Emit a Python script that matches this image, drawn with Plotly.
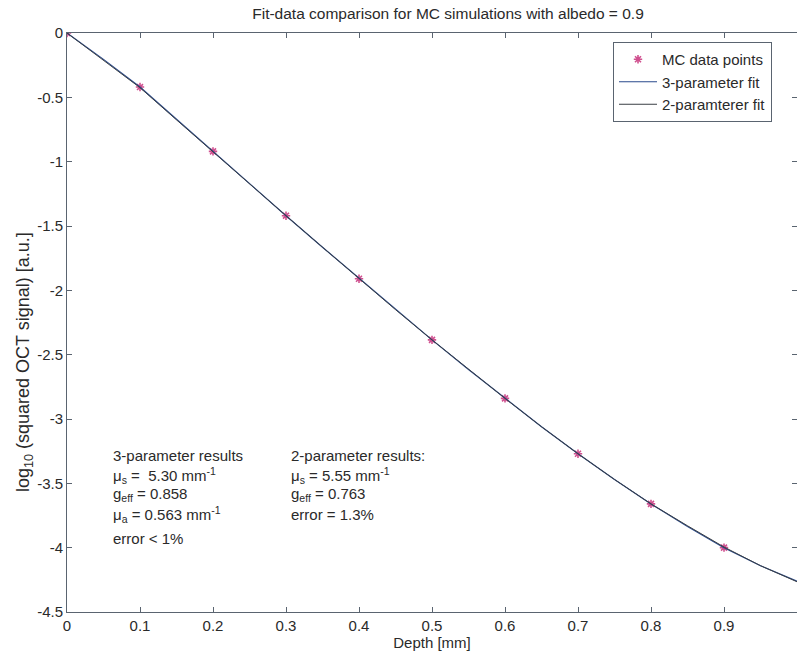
import plotly.graph_objects as go

# MC data points
mc_depth = [0.0, 0.1, 0.2, 0.3, 0.4, 0.5, 0.6, 0.7, 0.8, 0.9]
mc_signal = [0.0, -0.42, -0.92, -1.42, -1.91, -2.385, -2.84, -3.27, -3.66, -4.0]

# fitted curves
fit_depth = [0.0, 0.05, 0.1, 0.15, 0.2, 0.25, 0.3, 0.35, 0.4, 0.45, 0.5,
             0.55, 0.6, 0.65, 0.7, 0.75, 0.8, 0.85, 0.9, 0.95, 1.0]
fit3_signal = [0.0, -0.205, -0.42, -0.67, -0.925, -1.175, -1.42, -1.665, -1.905,
               -2.15, -2.385, -2.615, -2.84, -3.06, -3.27, -3.47, -3.66, -3.835,
               -4.0, -4.14, -4.26]
fit2_signal = [0.0, -0.21, -0.425, -0.675, -0.925, -1.175, -1.42, -1.665, -1.91,
               -2.15, -2.385, -2.615, -2.84, -3.06, -3.27, -3.47, -3.66, -3.83,
               -3.995, -4.14, -4.265]

x_ticks = [0, 0.1, 0.2, 0.3, 0.4, 0.5, 0.6, 0.7, 0.8, 0.9]
y_ticks = [0, -0.5, -1, -1.5, -2, -2.5, -3, -3.5, -4, -4.5]

AX = "#5a6470"
TXT = "#2a2a2a"
FONT = "Liberation Sans, Arial, sans-serif"

fig = go.Figure()
fig.add_trace(go.Scatter(
    x=mc_depth, y=mc_signal, mode="markers", name="MC data points",
    marker=dict(symbol="asterisk-open", size=7, color="#d0508f",
                line=dict(color="#d0508f", width=1.6))))
fig.add_trace(go.Scatter(
    x=fit_depth, y=fit3_signal, mode="lines", name="3-parameter fit",
    line=dict(color="#2a4a8c", width=1.2)))
fig.add_trace(go.Scatter(
    x=fit_depth, y=fit2_signal, mode="lines", name="2-paramterer fit",
    line=dict(color="#3a3f44", width=1.0)))

W, H = 797, 658
L, R, T, B = 67, 0, 33, 46
pw, ph = W - L - R, H - T - B


def px(x):
    return (x - L) / pw


def py(y):
    return (H - B - y) / ph


ann = []
left_lines = [
    ("3-parameter results", 456),
    ("μ<sub>s</sub> =  5.30 mm<sup>-1</sup>", 475),
    ("g<sub>eff</sub> = 0.858", 494),
    ("μ<sub>a</sub> = 0.563 mm<sup>-1</sup>", 514),
    ("error &lt; 1%", 538),
]
right_lines = [
    ("2-parameter results:", 456),
    ("μ<sub>s</sub> = 5.55 mm<sup>-1</sup>", 475),
    ("g<sub>eff</sub> = 0.763", 494),
    ("error = 1.3%", 514),
]
for text, y in left_lines:
    ann.append(dict(text=text, x=px(111), y=py(y), xref="paper", yref="paper",
                    xanchor="left", yanchor="middle", showarrow=False,
                    font=dict(size=15, color=TXT, family=FONT)))
for text, y in right_lines:
    ann.append(dict(text=text, x=px(289), y=py(y), xref="paper", yref="paper",
                    xanchor="left", yanchor="middle", showarrow=False,
                    font=dict(size=15, color=TXT, family=FONT)))
# y-axis label
ann.append(dict(text="log<sub>10</sub> (squared OCT signal) [a.u.]",
                x=px(25), y=py(362), xref="paper", yref="paper",
                xanchor="center", yanchor="middle", textangle=-90,
                showarrow=False, font=dict(size=18, color=TXT, family=FONT)))

fig.update_layout(
    width=W, height=H,
    margin=dict(l=L, r=R, t=T, b=B),
    paper_bgcolor="white", plot_bgcolor="white",
    font=dict(family=FONT, size=15, color=TXT),
    title=dict(text="Fit-data comparison for MC simulations with albedo = 0.9",
               xref="paper", x=px(448), xanchor="center",
               yref="container", y=1 - 14 / H, yanchor="middle",
               font=dict(size=15.5, color=TXT)),
    showlegend=True,
    legend=dict(x=px(613), y=py(42), xanchor="left", yanchor="top",
                bgcolor="white", bordercolor=AX, borderwidth=1,
                font=dict(size=15, color=TXT),
                tracegroupgap=0, itemwidth=38),
    annotations=ann,
    xaxis=dict(range=[0, 1.0], tickvals=x_ticks, ticktext=[f"{v:g}" for v in x_ticks],
               showgrid=False, zeroline=False, showline=True, linecolor=AX,
               linewidth=1, mirror="ticks", ticks="inside", ticklen=5,
               tickcolor=AX, tickfont=dict(size=15, color=TXT),
               title=dict(text="Depth [mm]", standoff=3,
                          font=dict(size=15, color=TXT))),
    yaxis=dict(range=[-4.5, 0], tickvals=y_ticks, ticktext=[f"{v:g}" for v in y_ticks],
               showgrid=False, zeroline=False, showline=True, linecolor=AX,
               linewidth=1, mirror="ticks", ticks="inside", ticklen=5,
               tickcolor=AX, tickfont=dict(size=15, color=TXT)),
)

fig.write_html("out.html")
